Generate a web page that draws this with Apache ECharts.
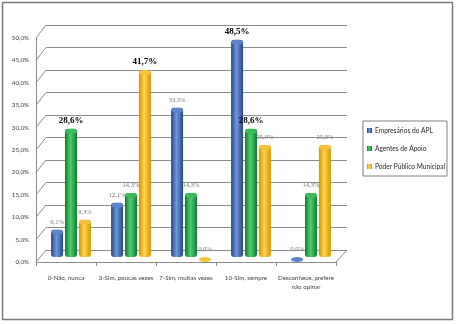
<!DOCTYPE html>
<html><head><meta charset="utf-8">
<script src="https://cdn.jsdelivr.net/npm/echarts@6/dist/echarts.min.js"></script>
<style>html,body{margin:0;padding:0;background:#fff}#c{width:457px;height:324px}</style>
</head><body><div id="c"></div>
<script>
const categories = ['0-Não, nunca', '3-Sim, poucas vezes', '7-Sim, muitas vezes', '10-Sim, sempre', 'Desconhece, prefere\nnão opinar'];
const seriesNames = ['Empresários do APL', 'Agentes de Apoio', 'Poder Público Municipal'];
const empresarios = [6.1, 12.1, 33.3, 48.5, 0.0];
const agentes = [28.6, 14.3, 14.3, 28.6, 14.3];
const poderPublico = [8.3, 41.7, 0.0, 25.0, 25.0];
const yMin = 0, yMax = 50, yInterval = 5;

const seriesData = [empresarios, agentes, poderPublico];
const palette = [
  {base: '#3b67b3', edge: '#25487f', mid: '#6d98dc', cap: '#5a85c9'},
  {base: '#22a443', edge: '#137a34', mid: '#4dd06c', cap: '#3bbb58'},
  {base: '#f5b51f', edge: '#d49400', mid: '#ffd650', cap: '#f6c23a'}
];
const gridLineColor = '#8c8c8c';
const sans = "Lato, 'Liberation Sans', sans-serif";
const serif = "'Liberation Serif','Times New Roman',serif";
const fmt = v => v.toFixed(1).replace('.', ',') + '%';

const chart = echarts.init(document.getElementById('c'), null, {renderer: 'canvas'});

const series = [];
seriesData.forEach((arr, i) => {
  const mx = Math.max(...arr);
  const p = palette[i];
  series.push({
    name: seriesNames[i], type: 'bar', xAxisIndex: 1, yAxisIndex: 1,
    data: arr, barWidth: 12, barGap: '16%', z: 3,
    itemStyle: {
      borderRadius: [3, 3, 3, 3],
      color: new echarts.graphic.LinearGradient(0, 0, 1, 0, [
        {offset: 0, color: p.edge}, {offset: 0.45, color: p.mid}, {offset: 1, color: p.edge}
      ])
    },
    label: {
      show: true, position: 'top', distance: 4,
      formatter: d => (d.value === mx ? '{b|' : '{n|') + fmt(d.value) + '}',
      rich: {
        b: {fontFamily: serif, fontWeight: 'bold', fontSize: 9, color: '#000'},
        n: {fontFamily: serif, fontSize: 6.5, color: '#7a7a7a'}
      }
    }
  });
});
seriesData.forEach((arr, i) => {
  series.push({
    name: 'cap' + i, type: 'pictorialBar', xAxisIndex: 1, yAxisIndex: 1,
    data: arr, barWidth: 12, barGap: '16%', z: 4,
    symbol: 'circle', symbolSize: [12, 5], symbolPosition: 'end',
    itemStyle: {color: palette[i].cap}, silent: true
  });
});

const option = {
  animation: false,
  backgroundColor: '#fff',
  color: palette.map(p => p.base),
  legend: {
    data: seriesNames, orient: 'vertical', left: 363, top: 121,
    itemWidth: 5, itemHeight: 5, itemGap: 11, icon: 'rect',
    borderColor: '#7f7f7f', borderWidth: 1, padding: [6, 2, 6, 4],
    textStyle: {fontFamily: sans, fontSize: 6.6, color: '#262626', padding: [0, 0, 0, -2]}
  },
  grid: [
    {left: 46, top: 25, width: 301, height: 225},
    {left: 41, top: 33, width: 300, height: 224},
    {left: 36, top: 38, width: 300, height: 224}
  ],
  xAxis: [
    {type: 'category', gridIndex: 0, data: categories, show: false},
    {type: 'category', gridIndex: 1, data: categories, show: false},
    {type: 'category', gridIndex: 2, data: categories,
      axisLine: {lineStyle: {color: gridLineColor}},
      axisTick: {show: true, length: 4, lineStyle: {color: gridLineColor}},
      axisLabel: {fontFamily: sans, fontSize: 6.2, color: '#404040', margin: 12, lineHeight: 9, interval: 0}}
  ],
  yAxis: [
    {type: 'value', gridIndex: 0, min: yMin, max: yMax, interval: yInterval,
      axisLabel: {show: false}, axisLine: {show: false}, axisTick: {show: false},
      splitLine: {show: true, lineStyle: {color: gridLineColor, width: 1}}},
    {type: 'value', gridIndex: 1, min: yMin, max: yMax, interval: yInterval, show: false, splitLine: {show: false}},
    {type: 'value', gridIndex: 2, min: yMin, max: yMax, interval: yInterval,
      axisLine: {show: true, lineStyle: {color: gridLineColor}}, axisTick: {show: false},
      splitLine: {show: false},
      axisLabel: {fontFamily: sans, fontSize: 6.2, color: '#404040', margin: 7,
        formatter: v => v.toFixed(1).replace('.', ',') + '%'}}
  ],
  series: series
};
chart.setOption(option);

// 3D-style wall/floor connector lines between front axis and back plane
const g = [];
for (let v = yMin; v <= yMax; v += yInterval) {
  const yf = chart.convertToPixel({yAxisIndex: 2}, v);
  const yb = chart.convertToPixel({yAxisIndex: 0}, v);
  g.push({type: 'line', shape: {x1: 36, y1: yf, x2: 46, y2: yb}, style: {stroke: gridLineColor, lineWidth: 1}, z: 1});
}
const yf0 = chart.convertToPixel({yAxisIndex: 2}, yMin);
const yb0 = chart.convertToPixel({yAxisIndex: 0}, yMin);
g.push({type: 'line', shape: {x1: 336, y1: yf0, x2: 347, y2: yb0}, style: {stroke: gridLineColor, lineWidth: 1}, z: 1});
g.push({type: 'rect', shape: {x: 2.5, y: 2.5, width: 450, height: 317}, style: {fill: null, stroke: '#7a7a7a', lineWidth: 1.5}, z: 0});
chart.setOption({graphic: g});
</script>
</body></html>
